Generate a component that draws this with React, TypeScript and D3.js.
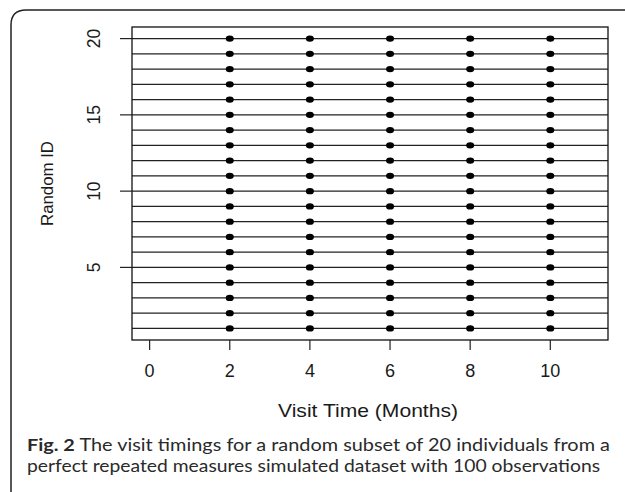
import React from 'react';
import * as d3 from 'd3';

// individuals shown on the y axis
const ids = [1, 2, 3, 4, 5, 6, 7, 8, 9, 10, 11, 12, 13, 14, 15, 16, 17, 18, 19, 20];
// visit times in months, same for everyone
const visits = [2, 4, 6, 8, 10];
const xTicks = [0, 2, 4, 6, 8, 10];
const yTicks = [5, 10, 15, 20];
const captionBold = 'Fig. 2';
const captionLine1 = ' The visit timings for a random subset of 20 individuals from a';
const captionLine2 = 'perfect repeated measures simulated dataset with 100 observations';

export default function App()
{
    const box = { left: 132, right: 608, top: 27, bottom: 340 };

    // R style 4% expansion of the data range
    const x = d3.scaleLinear().domain([-0.44, 11.44]).range([box.left, box.right]);
    const y = d3.scaleLinear().domain([0.24, 20.76]).range([box.bottom, box.top]);

    const axisFont = { fontFamily: 'Liberation Sans, Arial, sans-serif', fill: '#1a1a1a' };

    return (
        <svg width={625} height={492} style={{ position: 'absolute', left: 0, top: 0, background: '#fff' }}>
            <path d="M11,500 L11,25 Q11,10 26,10 L640,10" fill="none" stroke="#222" strokeWidth={1.5} />

            {/* one line per individual across the whole box */}
            {ids.map(id => (
                <line key={'l' + id} x1={box.left} x2={box.right} y1={y(id)} y2={y(id)} stroke="#222" strokeWidth={1.2} />
            ))}

            {ids.map(id => visits.map(v => (
                <ellipse key={id + '-' + v} cx={x(v)} cy={y(id)} rx={4} ry={3.2} fill="#000" />
            )))}

            <rect x={box.left} y={box.top} width={box.right - box.left} height={box.bottom - box.top} fill="none" stroke="#111" strokeWidth={1.3} />

            {/* x axis */}
            {xTicks.map(t => (
                <g key={'xt' + t}>
                    <line x1={x(t)} x2={x(t)} y1={box.bottom} y2={box.bottom + 10} stroke="#222" strokeWidth={1.2} />
                    <text x={x(t)} y={377} textAnchor="middle" fontSize={18} {...axisFont}>{t}</text>
                </g>
            ))}
            <text x={368} y={417} textAnchor="middle" fontSize={18.5} textLength={180} lengthAdjust="spacingAndGlyphs" {...axisFont}>Visit Time (Months)</text>

            {/* y axis */}
            {yTicks.map(t => (
                <g key={'yt' + t}>
                    <line x1={box.left - 12} x2={box.left} y1={y(t)} y2={y(t)} stroke="#222" strokeWidth={1.2} />
                    <text transform={'translate(100,' + y(t) + ') rotate(-90)'} textAnchor="middle" fontSize={17.5} {...axisFont}>{t}</text>
                </g>
            ))}
            <text transform={'translate(53,' + (box.top + box.bottom) / 2 + ') rotate(-90)'} textAnchor="middle" fontSize={17} textLength={85} lengthAdjust="spacingAndGlyphs" {...axisFont}>Random ID</text>

            {/* caption */}
            <text x={27} y={451} fontFamily="Lato, sans-serif" fontSize={17.5} fill="#2a2a2a" textLength={583} lengthAdjust="spacingAndGlyphs">
                <tspan fontWeight="bold">{captionBold}</tspan>{captionLine1}
            </text>
            <text x={27} y={472} fontFamily="Lato, sans-serif" fontSize={17.5} fill="#2a2a2a" textLength={573} lengthAdjust="spacingAndGlyphs">
                {captionLine2}
            </text>
        </svg>
    );
}
